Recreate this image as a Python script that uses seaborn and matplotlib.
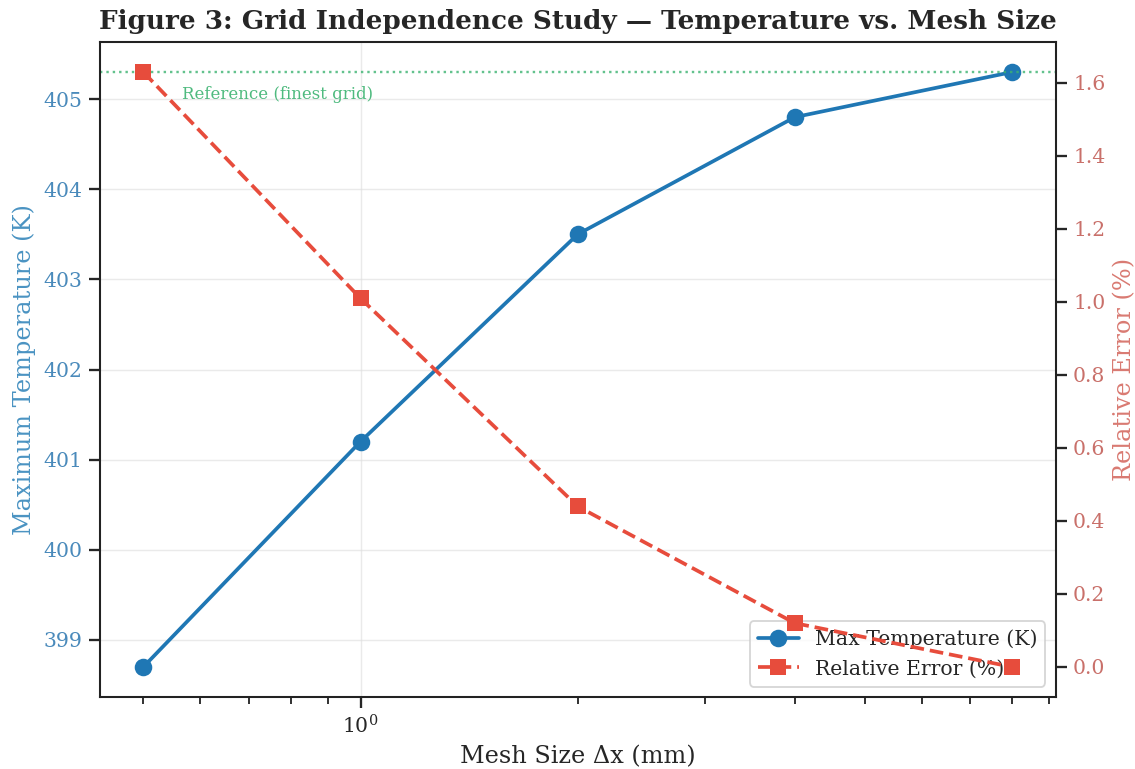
import matplotlib
matplotlib.use("Agg")
import matplotlib.pyplot as plt
import seaborn as sns
import pandas as pd

# Dados do estudo de malha
mesh_size = [0.5, 1.0, 2.0, 4.0, 8.0]          # mm
max_temp = [398.7, 401.2, 403.5, 404.8, 405.3]  # K
rel_error = [1.63, 1.01, 0.44, 0.12, 0.0]       # %
ref_temp = 405.3

COR_TEMP = "#1f77b4"
COR_ERRO = "#e74c3c"

sns.set_theme(style="ticks")
plt.rcParams.update({"font.family": "DejaVu Serif", "axes.edgecolor": "#222222",
                     "axes.linewidth": 1.1})

df = pd.DataFrame({"mesh": mesh_size, "temp": max_temp, "err": rel_error})

DPI = 133
fig, ax1 = plt.subplots(figsize=(1135 / DPI, 769 / DPI), dpi=DPI)
ax2 = ax1.twinx()

sns.lineplot(data=df, x="mesh", y="temp", ax=ax1, color=COR_TEMP, marker="o",
             markersize=9.5, linewidth=2, markeredgewidth=0, label="Max Temperature (K)")
sns.lineplot(data=df, x="mesh", y="err", ax=ax2, color=COR_ERRO, marker="s",
             markersize=8.5, linewidth=2, linestyle="--", markeredgewidth=0,
             label="Relative Error (%)")

ax1.set_xscale("log")
ax1.axhline(ref_temp, color="#3cb371", linestyle=":", linewidth=1.3, alpha=0.8)
ax1.text(0.565, ref_temp - 0.25, "Reference (finest grid)", color="#3cb371",
         fontsize=9, ha="left", va="center", alpha=0.9)

ax1.grid(True, which="major", color="#dddddd", alpha=0.6, linewidth=0.8)

ax1.set_xlabel("Mesh Size Δx (mm)", fontsize=13)
ax1.set_ylabel("Maximum Temperature (K)", fontsize=13, color="#4a93c2")
ax2.set_ylabel("Relative Error (%)", fontsize=13, color="#d97a72")
ax1.tick_params(axis="y", labelcolor="#4a8abb", labelsize=11)
ax2.tick_params(axis="y", labelcolor="#c9706a", labelsize=11)
ax1.tick_params(axis="x", labelsize=11)

# Legenda combinada
h1, l1 = ax1.get_legend_handles_labels()
h2, l2 = ax2.get_legend_handles_labels()
ax2.get_legend().remove()
ax1.legend(h1 + h2, l1 + l2, loc="lower right", fontsize=11, framealpha=0.8)

ax1.set_title("Figure 3: Grid Independence Study — Temperature vs. Mesh Size",
              fontsize=14.2, fontweight="bold", pad=7)

fig.subplots_adjust(left=0.088, right=0.93, top=0.945, bottom=0.094)
fig.savefig("out.png", dpi=DPI)
